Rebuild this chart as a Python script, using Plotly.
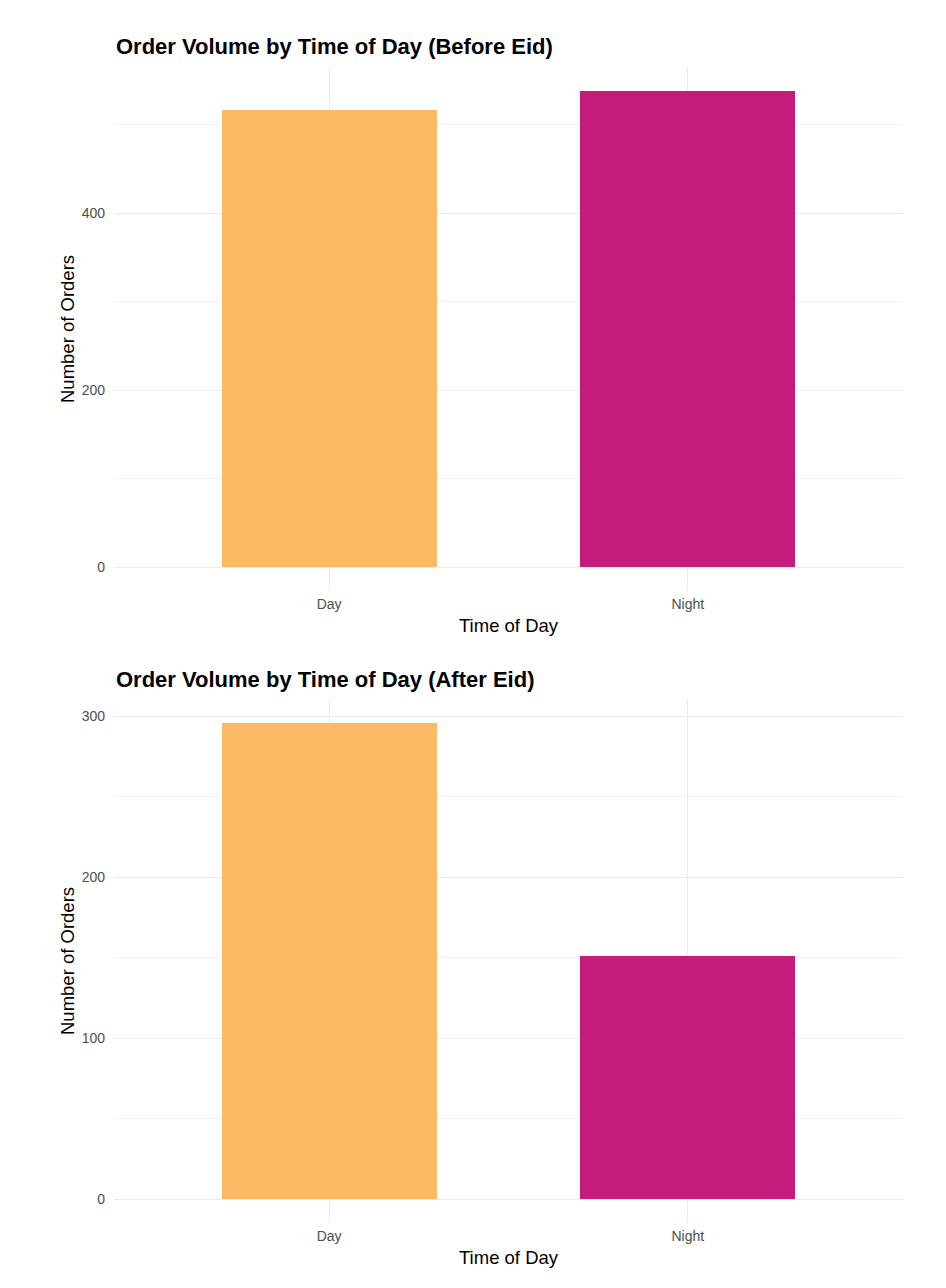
import plotly.graph_objects as go
from plotly.subplots import make_subplots

# Data
times = ['Day', 'Night']
before_eid = [516, 538]
after_eid = [296, 151]
bar_colors = ['#FDB863', '#C51B7D']

titles = ['Order Volume by Time of Day (Before Eid)',
          'Order Volume by Time of Day (After Eid)']

W, H = 946, 1288
OFF = 8  # page body margin

fig = make_subplots(rows=2, cols=1)

for i, vals in enumerate([before_eid, after_eid]):
    fig.add_trace(go.Bar(x=times, y=vals, marker_color=bar_colors,
                         marker_line_width=0, width=0.6, showlegend=False),
                  row=i + 1, col=1)

def px_(p):
    return (p - OFF) / W

def py(p):
    return 1 - (p - OFF) / H

# panel placement (pixels from top of window)
panels = [(67, 591), (699, 1223)]
left, right = 114, 903
maxes = [max(before_eid), max(after_eid)]
majors = [200, 100]

for i, ((top, bot), m, d) in enumerate(zip(panels, maxes, majors)):
    n = '' if i == 0 else '2'
    fig.layout['xaxis' + n].update(
        domain=[px_(left), px_(right)], range=[-0.6, 1.6],
        showgrid=True, gridcolor='#EBEBEB', gridwidth=1.2,
        zeroline=False, showline=False, ticks='', ticklabelstandoff=3,
        tickfont=dict(size=14, color='#4D4D4D'))
    fig.layout['yaxis' + n].update(
        domain=[py(bot), py(top)], range=[-0.05 * m, 1.05 * m],
        dtick=d, showgrid=True, gridcolor='#EBEBEB', gridwidth=1.2,
        minor=dict(dtick=d / 2, showgrid=True, gridcolor='#F2F2F2', gridwidth=0.8),
        zeroline=False, showline=False, ticks='', ticklabelstandoff=8,
        tickfont=dict(size=14, color='#4D4D4D'))

    fig.add_annotation(text='<b>' + titles[i] + '</b>', xref='paper', yref='paper',
                       x=px_(left), y=py(top - 20), xanchor='left', yanchor='middle',
                       showarrow=False, font=dict(size=22, color='#000000'))
    fig.add_annotation(text='Time of Day', xref='paper', yref='paper',
                       x=px_((left + right) / 2), y=py(bot + 34), xanchor='center',
                       yanchor='middle', showarrow=False,
                       font=dict(size=18.5, color='#000000'))
    fig.add_annotation(text='Number of Orders', xref='paper', yref='paper',
                       x=px_(67), y=py((top + bot) / 2), xanchor='center',
                       yanchor='middle', textangle=-90, showarrow=False,
                       font=dict(size=18.5, color='#000000'))

fig.update_layout(
    width=W, height=H,
    margin=dict(l=0, r=0, t=0, b=0),
    plot_bgcolor='white', paper_bgcolor='white',
    font=dict(family='Liberation Sans, Arial, sans-serif'),
    bargap=0,
)

fig.write_html("out.html")
